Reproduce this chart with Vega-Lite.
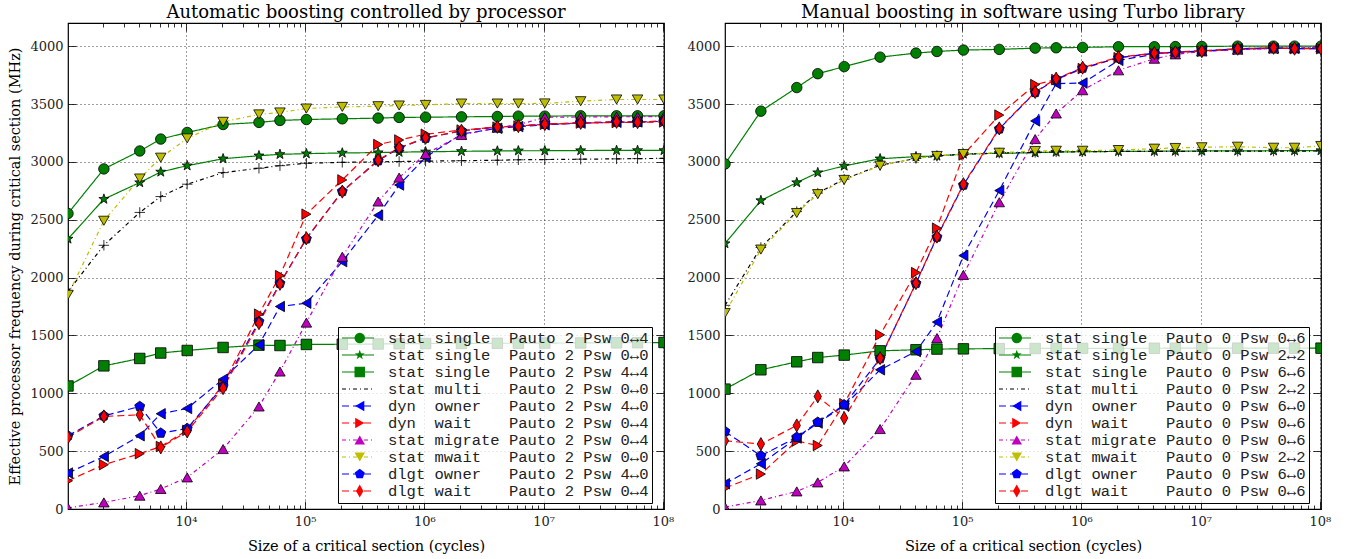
{
  "$schema": "https://vega.github.io/schema/vega-lite/v6.json",
  "padding": {"left": 7, "right": 4, "top": 3, "bottom": 2},
  "datasets": {
    "namesA": [
      {"k":0,"s":"stat\u00a0single\u00a0\u00a0Pauto\u00a02\u00a0Psw\u00a00\u21944"},
      {"k":1,"s":"stat\u00a0single\u00a0\u00a0Pauto\u00a02\u00a0Psw\u00a00\u21940"},
      {"k":2,"s":"stat\u00a0single\u00a0\u00a0Pauto\u00a02\u00a0Psw\u00a04\u21944"},
      {"k":3,"s":"stat\u00a0multi\u00a0\u00a0\u00a0Pauto\u00a02\u00a0Psw\u00a00\u21940"},
      {"k":4,"s":"dyn\u00a0\u00a0owner\u00a0\u00a0\u00a0Pauto\u00a02\u00a0Psw\u00a04\u21940"},
      {"k":5,"s":"dyn\u00a0\u00a0wait\u00a0\u00a0\u00a0\u00a0Pauto\u00a02\u00a0Psw\u00a00\u21944"},
      {"k":6,"s":"stat\u00a0migrate\u00a0Pauto\u00a02\u00a0Psw\u00a00\u21944"},
      {"k":7,"s":"stat\u00a0mwait\u00a0\u00a0\u00a0Pauto\u00a02\u00a0Psw\u00a00\u21940"},
      {"k":8,"s":"dlgt\u00a0owner\u00a0\u00a0\u00a0Pauto\u00a02\u00a0Psw\u00a04\u21940"},
      {"k":9,"s":"dlgt\u00a0wait\u00a0\u00a0\u00a0\u00a0Pauto\u00a02\u00a0Psw\u00a00\u21944"}
    ],
    "namesB": [
      {"k":0,"s":"stat\u00a0single\u00a0\u00a0Pauto\u00a00\u00a0Psw\u00a00\u21946"},
      {"k":1,"s":"stat\u00a0single\u00a0\u00a0Pauto\u00a00\u00a0Psw\u00a02\u21942"},
      {"k":2,"s":"stat\u00a0single\u00a0\u00a0Pauto\u00a00\u00a0Psw\u00a06\u21946"},
      {"k":3,"s":"stat\u00a0multi\u00a0\u00a0\u00a0Pauto\u00a00\u00a0Psw\u00a02\u21942"},
      {"k":4,"s":"dyn\u00a0\u00a0owner\u00a0\u00a0\u00a0Pauto\u00a00\u00a0Psw\u00a06\u21940"},
      {"k":5,"s":"dyn\u00a0\u00a0wait\u00a0\u00a0\u00a0\u00a0Pauto\u00a00\u00a0Psw\u00a00\u21946"},
      {"k":6,"s":"stat\u00a0migrate\u00a0Pauto\u00a00\u00a0Psw\u00a00\u21946"},
      {"k":7,"s":"stat\u00a0mwait\u00a0\u00a0\u00a0Pauto\u00a00\u00a0Psw\u00a02\u21942"},
      {"k":8,"s":"dlgt\u00a0owner\u00a0\u00a0\u00a0Pauto\u00a00\u00a0Psw\u00a06\u21940"},
      {"k":9,"s":"dlgt\u00a0wait\u00a0\u00a0\u00a0\u00a0Pauto\u00a00\u00a0Psw\u00a00\u21946"}
    ],
    "auto": [
      {"k":0,"x":1024,"y":2554},{"k":0,"x":2048,"y":2939},{"k":0,"x":4096,"y":3094},{"k":0,"x":6144,"y":3197},{"k":0,"x":10240,"y":3254},{"k":0,"x":20480,"y":3323},{"k":0,"x":40960,"y":3341},{"k":0,"x":61440,"y":3358},{"k":0,"x":102400,"y":3366},{"k":0,"x":204800,"y":3372},{"k":0,"x":409600,"y":3378},{"k":0,"x":614400,"y":3384},{"k":0,"x":1024000,"y":3386},{"k":0,"x":2048000,"y":3389},{"k":0,"x":4096000,"y":3392},{"k":0,"x":6144000,"y":3395},{"k":0,"x":10240000,"y":3395},{"k":0,"x":20480000,"y":3398},{"k":0,"x":40960000,"y":3398},{"k":0,"x":61440000,"y":3398},{"k":0,"x":102400000,"y":3398},
      {"k":1,"x":1024,"y":2334},{"k":1,"x":2048,"y":2678},{"k":1,"x":4096,"y":2821},{"k":1,"x":6144,"y":2913},{"k":1,"x":10240,"y":2967},{"k":1,"x":20480,"y":3027},{"k":1,"x":40960,"y":3053},{"k":1,"x":61440,"y":3065},{"k":1,"x":102400,"y":3071},{"k":1,"x":204800,"y":3077},{"k":1,"x":409600,"y":3080},{"k":1,"x":614400,"y":3084},{"k":1,"x":1024000,"y":3087},{"k":1,"x":2048000,"y":3091},{"k":1,"x":4096000,"y":3094},{"k":1,"x":6144000,"y":3096},{"k":1,"x":10240000,"y":3096},{"k":1,"x":20480000,"y":3098},{"k":1,"x":40960000,"y":3099},{"k":1,"x":61440000,"y":3099},{"k":1,"x":102400000,"y":3099},
      {"k":2,"x":1024,"y":1063},{"k":2,"x":2048,"y":1237},{"k":2,"x":4096,"y":1301},{"k":2,"x":6144,"y":1348},{"k":2,"x":10240,"y":1370},{"k":2,"x":20480,"y":1396},{"k":2,"x":40960,"y":1416},{"k":2,"x":61440,"y":1413},{"k":2,"x":102400,"y":1422},{"k":2,"x":204800,"y":1424},{"k":2,"x":409600,"y":1426},{"k":2,"x":614400,"y":1428},{"k":2,"x":1024000,"y":1430},{"k":2,"x":2048000,"y":1431},{"k":2,"x":4096000,"y":1432},{"k":2,"x":6144000,"y":1433},{"k":2,"x":10240000,"y":1434},{"k":2,"x":20480000,"y":1435},{"k":2,"x":40960000,"y":1436},{"k":2,"x":61440000,"y":1437},{"k":2,"x":102400000,"y":1439},
      {"k":3,"x":1024,"y":1880},{"k":3,"x":2048,"y":2279},{"k":3,"x":4096,"y":2563},{"k":3,"x":6144,"y":2700},{"k":3,"x":10240,"y":2807},{"k":3,"x":20480,"y":2907},{"k":3,"x":40960,"y":2945},{"k":3,"x":61440,"y":2967},{"k":3,"x":102400,"y":2988},{"k":3,"x":204800,"y":2996},{"k":3,"x":409600,"y":3000},{"k":3,"x":614400,"y":3003},{"k":3,"x":1024000,"y":3006},{"k":3,"x":2048000,"y":3010},{"k":3,"x":4096000,"y":3014},{"k":3,"x":6144000,"y":3018},{"k":3,"x":10240000,"y":3020},{"k":3,"x":20480000,"y":3023},{"k":3,"x":40960000,"y":3026},{"k":3,"x":61440000,"y":3028},{"k":3,"x":102400000,"y":3030},
      {"k":4,"x":1024,"y":311},{"k":4,"x":2048,"y":454},{"k":4,"x":4096,"y":633},{"k":4,"x":6144,"y":823},{"k":4,"x":10240,"y":869},{"k":4,"x":20480,"y":1122},{"k":4,"x":40960,"y":1419},{"k":4,"x":61440,"y":1750},{"k":4,"x":102400,"y":1779},{"k":4,"x":204800,"y":2138},{"k":4,"x":409600,"y":2538},{"k":4,"x":614400,"y":2800},{"k":4,"x":1024000,"y":3040},{"k":4,"x":2048000,"y":3240},{"k":4,"x":4096000,"y":3290},{"k":4,"x":6144000,"y":3305},{"k":4,"x":10240000,"y":3320},{"k":4,"x":20480000,"y":3335},{"k":4,"x":40960000,"y":3342},{"k":4,"x":61440000,"y":3345},{"k":4,"x":102400000,"y":3350},
      {"k":5,"x":1024,"y":244},{"k":5,"x":2048,"y":383},{"k":5,"x":4096,"y":478},{"k":5,"x":6144,"y":540},{"k":5,"x":10240,"y":680},{"k":5,"x":20480,"y":1075},{"k":5,"x":40960,"y":1684},{"k":5,"x":61440,"y":2017},{"k":5,"x":102400,"y":2548},{"k":5,"x":204800,"y":2844},{"k":5,"x":409600,"y":3150},{"k":5,"x":614400,"y":3189},{"k":5,"x":1024000,"y":3239},{"k":5,"x":2048000,"y":3275},{"k":5,"x":4096000,"y":3300},{"k":5,"x":6144000,"y":3310},{"k":5,"x":10240000,"y":3325},{"k":5,"x":20480000,"y":3335},{"k":5,"x":40960000,"y":3340},{"k":5,"x":61440000,"y":3342},{"k":5,"x":102400000,"y":3345},
      {"k":6,"x":1024,"y":10},{"k":6,"x":2048,"y":57},{"k":6,"x":4096,"y":115},{"k":6,"x":6144,"y":173},{"k":6,"x":10240,"y":273},{"k":6,"x":20480,"y":518},{"k":6,"x":40960,"y":886},{"k":6,"x":61440,"y":1188},{"k":6,"x":102400,"y":1611},{"k":6,"x":204800,"y":2180},{"k":6,"x":409600,"y":2657},{"k":6,"x":614400,"y":2864},{"k":6,"x":1024000,"y":3068},{"k":6,"x":2048000,"y":3232},{"k":6,"x":4096000,"y":3295},{"k":6,"x":6144000,"y":3320},{"k":6,"x":10240000,"y":3385},{"k":6,"x":20480000,"y":3388},{"k":6,"x":40960000,"y":3390},{"k":6,"x":61440000,"y":3390},{"k":6,"x":102400000,"y":3392},
      {"k":7,"x":1024,"y":1851},{"k":7,"x":2048,"y":2491},{"k":7,"x":4096,"y":2856},{"k":7,"x":6144,"y":3036},{"k":7,"x":10240,"y":3203},{"k":7,"x":20480,"y":3346},{"k":7,"x":40960,"y":3410},{"k":7,"x":61440,"y":3427},{"k":7,"x":102400,"y":3461},{"k":7,"x":204800,"y":3475},{"k":7,"x":409600,"y":3481},{"k":7,"x":614400,"y":3487},{"k":7,"x":1024000,"y":3492},{"k":7,"x":2048000,"y":3504},{"k":7,"x":4096000,"y":3504},{"k":7,"x":6144000,"y":3504},{"k":7,"x":10240000,"y":3505},{"k":7,"x":20480000,"y":3524},{"k":7,"x":40960000,"y":3539},{"k":7,"x":61440000,"y":3539},{"k":7,"x":102400000,"y":3539},
      {"k":8,"x":1024,"y":633},{"k":8,"x":2048,"y":805},{"k":8,"x":4096,"y":886},{"k":8,"x":6144,"y":656},{"k":8,"x":10240,"y":696},{"k":8,"x":20480,"y":1060},{"k":8,"x":40960,"y":1620},{"k":8,"x":61440,"y":1950},{"k":8,"x":102400,"y":2335},{"k":8,"x":204800,"y":2745},{"k":8,"x":409600,"y":3010},{"k":8,"x":614400,"y":3120},{"k":8,"x":1024000,"y":3205},{"k":8,"x":2048000,"y":3268},{"k":8,"x":4096000,"y":3300},{"k":8,"x":6144000,"y":3308},{"k":8,"x":10240000,"y":3326},{"k":8,"x":20480000,"y":3337},{"k":8,"x":40960000,"y":3346},{"k":8,"x":61440000,"y":3343},{"k":8,"x":102400000,"y":3352},
      {"k":9,"x":1024,"y":619},{"k":9,"x":2048,"y":800},{"k":9,"x":4096,"y":814},{"k":9,"x":6144,"y":532},{"k":9,"x":10240,"y":670},{"k":9,"x":20480,"y":1045},{"k":9,"x":40960,"y":1606},{"k":9,"x":61440,"y":1946},{"k":9,"x":102400,"y":2340},{"k":9,"x":204800,"y":2743},{"k":9,"x":409600,"y":3016},{"k":9,"x":614400,"y":3122},{"k":9,"x":1024000,"y":3208},{"k":9,"x":2048000,"y":3269},{"k":9,"x":4096000,"y":3303},{"k":9,"x":6144000,"y":3309},{"k":9,"x":10240000,"y":3326},{"k":9,"x":20480000,"y":3337},{"k":9,"x":40960000,"y":3346},{"k":9,"x":61440000,"y":3343},{"k":9,"x":102400000,"y":3354}
    ],
    "manual": [
      {"k":0,"x":1024,"y":2982},{"k":0,"x":2048,"y":3438},{"k":0,"x":4096,"y":3642},{"k":0,"x":6144,"y":3762},{"k":0,"x":10240,"y":3823},{"k":0,"x":20480,"y":3905},{"k":0,"x":40960,"y":3940},{"k":0,"x":61440,"y":3954},{"k":0,"x":102400,"y":3966},{"k":0,"x":204800,"y":3972},{"k":0,"x":409600,"y":3983},{"k":0,"x":614400,"y":3986},{"k":0,"x":1024000,"y":3989},{"k":0,"x":2048000,"y":3995},{"k":0,"x":4096000,"y":3995},{"k":0,"x":6144000,"y":3996},{"k":0,"x":10240000,"y":3997},{"k":0,"x":20480000,"y":4000},{"k":0,"x":40960000,"y":4000},{"k":0,"x":61440000,"y":4000},{"k":0,"x":102400000,"y":4000},
      {"k":1,"x":1024,"y":2294},{"k":1,"x":2048,"y":2666},{"k":1,"x":4096,"y":2821},{"k":1,"x":6144,"y":2907},{"k":1,"x":10240,"y":2965},{"k":1,"x":20480,"y":3027},{"k":1,"x":40960,"y":3045},{"k":1,"x":61440,"y":3051},{"k":1,"x":102400,"y":3068},{"k":1,"x":204800,"y":3074},{"k":1,"x":409600,"y":3079},{"k":1,"x":614400,"y":3085},{"k":1,"x":1024000,"y":3088},{"k":1,"x":2048000,"y":3090},{"k":1,"x":4096000,"y":3092},{"k":1,"x":6144000,"y":3093},{"k":1,"x":10240000,"y":3094},{"k":1,"x":20480000,"y":3095},{"k":1,"x":40960000,"y":3096},{"k":1,"x":61440000,"y":3097},{"k":1,"x":102400000,"y":3098},
      {"k":2,"x":1024,"y":1036},{"k":2,"x":2048,"y":1203},{"k":2,"x":4096,"y":1272},{"k":2,"x":6144,"y":1309},{"k":2,"x":10240,"y":1330},{"k":2,"x":20480,"y":1367},{"k":2,"x":40960,"y":1376},{"k":2,"x":61440,"y":1382},{"k":2,"x":102400,"y":1384},{"k":2,"x":204800,"y":1386},{"k":2,"x":409600,"y":1387},{"k":2,"x":614400,"y":1388},{"k":2,"x":1024000,"y":1388},{"k":2,"x":2048000,"y":1389},{"k":2,"x":4096000,"y":1389},{"k":2,"x":6144000,"y":1390},{"k":2,"x":10240000,"y":1390},{"k":2,"x":20480000,"y":1390},{"k":2,"x":40960000,"y":1390},{"k":2,"x":61440000,"y":1390},{"k":2,"x":102400000,"y":1390},
      {"k":3,"x":1024,"y":1760},{"k":3,"x":2048,"y":2260},{"k":3,"x":4096,"y":2570},{"k":3,"x":6144,"y":2730},{"k":3,"x":10240,"y":2850},{"k":3,"x":20480,"y":2970},{"k":3,"x":40960,"y":3030},{"k":3,"x":61440,"y":3050},{"k":3,"x":102400,"y":3066},{"k":3,"x":204800,"y":3076},{"k":3,"x":409600,"y":3082},{"k":3,"x":614400,"y":3086},{"k":3,"x":1024000,"y":3088},{"k":3,"x":2048000,"y":3090},{"k":3,"x":4096000,"y":3090},{"k":3,"x":6144000,"y":3091},{"k":3,"x":10240000,"y":3092},{"k":3,"x":20480000,"y":3092},{"k":3,"x":40960000,"y":3093},{"k":3,"x":61440000,"y":3093},{"k":3,"x":102400000,"y":3094},
      {"k":4,"x":1024,"y":218},{"k":4,"x":2048,"y":391},{"k":4,"x":4096,"y":613},{"k":4,"x":6144,"y":743},{"k":4,"x":10240,"y":892},{"k":4,"x":20480,"y":1203},{"k":4,"x":40960,"y":1361},{"k":4,"x":61440,"y":1615},{"k":4,"x":102400,"y":2190},{"k":4,"x":204800,"y":2752},{"k":4,"x":409600,"y":3354},{"k":4,"x":614400,"y":3676},{"k":4,"x":1024000,"y":3681},{"k":4,"x":2048000,"y":3877},{"k":4,"x":4096000,"y":3930},{"k":4,"x":6144000,"y":3950},{"k":4,"x":10240000,"y":3960},{"k":4,"x":20480000,"y":3975},{"k":4,"x":40960000,"y":3980},{"k":4,"x":61440000,"y":3980},{"k":4,"x":102400000,"y":3985},
      {"k":5,"x":1024,"y":181},{"k":5,"x":2048,"y":302},{"k":5,"x":4096,"y":587},{"k":5,"x":6144,"y":549},{"k":5,"x":10240,"y":909},{"k":5,"x":20480,"y":1505},{"k":5,"x":40960,"y":2043},{"k":5,"x":61440,"y":2427},{"k":5,"x":102400,"y":3060},{"k":5,"x":204800,"y":3404},{"k":5,"x":409600,"y":3668},{"k":5,"x":614400,"y":3711},{"k":5,"x":1024000,"y":3806},{"k":5,"x":2048000,"y":3900},{"k":5,"x":4096000,"y":3935},{"k":5,"x":6144000,"y":3945},{"k":5,"x":10240000,"y":3955},{"k":5,"x":20480000,"y":3972},{"k":5,"x":40960000,"y":3983},{"k":5,"x":61440000,"y":3978},{"k":5,"x":102400000,"y":3978},
      {"k":6,"x":1024,"y":17},{"k":6,"x":2048,"y":74},{"k":6,"x":4096,"y":152},{"k":6,"x":6144,"y":230},{"k":6,"x":10240,"y":368},{"k":6,"x":20480,"y":691},{"k":6,"x":40960,"y":1160},{"k":6,"x":61440,"y":1477},{"k":6,"x":102400,"y":2023},{"k":6,"x":204800,"y":2651},{"k":6,"x":409600,"y":3197},{"k":6,"x":614400,"y":3418},{"k":6,"x":1024000,"y":3619},{"k":6,"x":2048000,"y":3791},{"k":6,"x":4096000,"y":3891},{"k":6,"x":6144000,"y":3929},{"k":6,"x":10240000,"y":3955},{"k":6,"x":20480000,"y":3970},{"k":6,"x":40960000,"y":3980},{"k":6,"x":61440000,"y":3985},{"k":6,"x":102400000,"y":3990},
      {"k":7,"x":1024,"y":1693},{"k":7,"x":2048,"y":2242},{"k":7,"x":4096,"y":2558},{"k":7,"x":6144,"y":2721},{"k":7,"x":10240,"y":2844},{"k":7,"x":20480,"y":2967},{"k":7,"x":40960,"y":3031},{"k":7,"x":61440,"y":3051},{"k":7,"x":102400,"y":3068},{"k":7,"x":204800,"y":3079},{"k":7,"x":409600,"y":3094},{"k":7,"x":614400,"y":3096},{"k":7,"x":1024000,"y":3096},{"k":7,"x":2048000,"y":3102},{"k":7,"x":4096000,"y":3114},{"k":7,"x":6144000,"y":3120},{"k":7,"x":10240000,"y":3126},{"k":7,"x":20480000,"y":3131},{"k":7,"x":40960000,"y":3122},{"k":7,"x":61440000,"y":3122},{"k":7,"x":102400000,"y":3137},
      {"k":8,"x":1024,"y":670},{"k":8,"x":2048,"y":460},{"k":8,"x":4096,"y":620},{"k":8,"x":6144,"y":750},{"k":8,"x":10240,"y":900},{"k":8,"x":20480,"y":1300},{"k":8,"x":40960,"y":1950},{"k":8,"x":61440,"y":2350},{"k":8,"x":102400,"y":2800},{"k":8,"x":204800,"y":3285},{"k":8,"x":409600,"y":3600},{"k":8,"x":614400,"y":3715},{"k":8,"x":1024000,"y":3810},{"k":8,"x":2048000,"y":3900},{"k":8,"x":4096000,"y":3940},{"k":8,"x":6144000,"y":3948},{"k":8,"x":10240000,"y":3957},{"k":8,"x":20480000,"y":3978},{"k":8,"x":40960000,"y":3986},{"k":8,"x":61440000,"y":3978},{"k":8,"x":102400000,"y":3978},
      {"k":9,"x":1024,"y":590},{"k":9,"x":2048,"y":561},{"k":9,"x":4096,"y":722},{"k":9,"x":6144,"y":973},{"k":9,"x":10240,"y":786},{"k":9,"x":20480,"y":1304},{"k":9,"x":40960,"y":1952},{"k":9,"x":61440,"y":2354},{"k":9,"x":102400,"y":2807},{"k":9,"x":204800,"y":3289},{"k":9,"x":409600,"y":3604},{"k":9,"x":614400,"y":3719},{"k":9,"x":1024000,"y":3814},{"k":9,"x":2048000,"y":3905},{"k":9,"x":4096000,"y":3940},{"k":9,"x":6144000,"y":3948},{"k":9,"x":10240000,"y":3957},{"k":9,"x":20480000,"y":3978},{"k":9,"x":40960000,"y":3986},{"k":9,"x":61440000,"y":3978},{"k":9,"x":102400000,"y":3978}
    ]
  },
  "spacing": 61,
  "bounds": "flush",
  "hconcat": [
    {
      "width": 596, "height": 486,
      "title": {"text": "Automatic boosting controlled by processor"},
      "data": {"name": "auto"},
      "transform": [{"lookup": "k", "from": {"data": {"name": "namesA"}, "key": "k", "fields": ["s"]}}],
      "resolve": {"axis": {"x": "independent", "y": "independent"}},
      "layer": [
        {
          "mark": {"type": "line", "strokeWidth": 1.2, "clip": true},
          "encoding": {
            "x": {"field": "x", "type": "quantitative", "scale": {"type": "log", "domain": [1024, 102400000], "nice": false},
                  "axis": {"orient": "bottom", "values": [10000, 100000, 1000000, 10000000, 100000000], "labelExpr": "'10' + ['','','','','\u2074','\u2075','\u2076','\u2077','\u2078'][round(log(datum.value)/LN10)]", "tickSize": -8, "labelPadding": 14, "grid": true, "title": "Size of a critical section (cycles)", "titlePadding": 11}},
            "y": {"field": "y", "type": "quantitative", "scale": {"domain": [0, 4200], "nice": false},
                  "axis": {"orient": "left", "values": [0, 500, 1000, 1500, 2000, 2500, 3000, 3500, 4000], "format": "d", "tickSize": -8, "labelPadding": 13, "grid": true, "title": "Effective processor frequency during critical section (MHz)", "titlePadding": 7}},
            "stroke": {"field": "s", "type": "nominal", "sort": {"field": "k", "op": "min"},
                       "scale": {"range": ["#008000", "#008000", "#008000", "#000000", "#0000ff", "#ff0000", "#bf00bf", "#bfbf00", "#0000ff", "#ff0000"]},
                       "legend": {"orient": "none", "legendX": 270, "legendY": 304, "title": null, "symbolType": "stroke", "symbolSize": 1024, "clipHeight": 16, "symbolStrokeWidth": 1.2, "labelOffset": 13, "fillColor": "rgba(255,255,255,0.8)", "strokeColor": "black", "zindex": 1}},
            "strokeDash": {"field": "s", "type": "nominal", "sort": {"field": "k", "op": "min"},
                       "scale": {"range": [[1, 0], [1, 0], [1, 0], [4, 3, 1, 3], [7, 4], [7, 4], [4, 3, 1, 3], [4, 3, 1, 3], [7, 4], [7, 4]]},
                       "legend": {"orient": "none", "legendX": 270, "legendY": 304, "title": null, "symbolType": "stroke", "symbolSize": 1024, "clipHeight": 16, "symbolStrokeWidth": 1.2, "labelOffset": 13, "fillColor": "rgba(255,255,255,0.8)", "strokeColor": "black", "zindex": 1}}
          }
        },
        {
          "mark": {"type": "point", "filled": true, "size": 110, "stroke": "black", "strokeWidth": 0.8, "opacity": 1, "clip": true},
          "encoding": {
            "x": {"field": "x", "type": "quantitative", "axis": {"orient": "bottom", "values": [2000,3000,4000,5000,6000,7000,8000,9000,20000,30000,40000,50000,60000,70000,80000,90000,200000,300000,400000,500000,600000,700000,800000,900000,2000000,3000000,4000000,5000000,6000000,7000000,8000000,9000000,20000000,30000000,40000000,50000000,60000000,70000000,80000000,90000000], "labels": false, "tickSize": -4, "grid": false, "title": null}},
            "y": {"field": "y", "type": "quantitative", "axis": {"orient": "right", "values": [0, 500, 1000, 1500, 2000, 2500, 3000, 3500, 4000], "labels": false, "tickSize": -8, "grid": false, "title": null}},
            "fill": {"field": "k", "type": "nominal",
                     "scale": {"range": ["#008000", "#008000", "#008000", "#000000", "#0000ff", "#ff0000", "#bf00bf", "#bfbf00", "#0000ff", "#ff0000"]},
                     "legend": {"orient": "none", "legendX": 281, "legendY": 304, "title": null, "labelOpacity": 0, "clipHeight": 16, "symbolStrokeColor": "black", "symbolStrokeWidth": 0.8, "symbolSize": 110, "zindex": 2}},
            "shape": {"field": "k", "type": "nominal",
                     "scale": {"range": ["circle", "M0,-1L0.235,-0.324L0.951,-0.309L0.380,0.124L0.588,0.809L0,0.4L-0.588,0.809L-0.380,0.124L-0.951,-0.309L-0.235,-0.324Z", "square", "M-1,0H1M0,-1V1", "triangle-left", "triangle-right", "triangle-up", "triangle-down", "M0,-1L0.951,-0.309L0.588,0.809L-0.588,0.809L-0.951,-0.309Z", "M0,-1.25L0.7,0L0,1.25L-0.7,0Z"]},
                     "legend": {"orient": "none", "legendX": 281, "legendY": 304, "title": null, "labelOpacity": 0, "clipHeight": 16, "symbolStrokeColor": "black", "symbolStrokeWidth": 0.8, "symbolSize": 110, "zindex": 2}}
          }
        },
        {
          "mark": {"type": "point", "opacity": 0},
          "encoding": {
            "x": {"field": "x", "type": "quantitative", "axis": {"orient": "top", "values": [10000, 100000, 1000000, 10000000, 100000000], "labels": false, "tickSize": -8, "grid": false, "title": null}},
            "y": {"field": "y", "type": "quantitative", "axis": null}
          }
        },
        {
          "mark": {"type": "point", "opacity": 0},
          "encoding": {
            "x": {"field": "x", "type": "quantitative", "axis": {"orient": "top", "values": [2000,3000,4000,5000,6000,7000,8000,9000,20000,30000,40000,50000,60000,70000,80000,90000,200000,300000,400000,500000,600000,700000,800000,900000,2000000,3000000,4000000,5000000,6000000,7000000,8000000,9000000,20000000,30000000,40000000,50000000,60000000,70000000,80000000,90000000], "labels": false, "tickSize": -4, "grid": false, "title": null}},
            "y": {"field": "y", "type": "quantitative", "axis": null}
          }
        }
      ]
    },
    {
      "width": 596, "height": 486,
      "title": {"text": "Manual boosting in software using Turbo library"},
      "data": {"name": "manual"},
      "transform": [{"lookup": "k", "from": {"data": {"name": "namesB"}, "key": "k", "fields": ["s"]}}],
      "resolve": {"axis": {"x": "independent", "y": "independent"}},
      "layer": [
        {
          "mark": {"type": "line", "strokeWidth": 1.2, "clip": true},
          "encoding": {
            "x": {"field": "x", "type": "quantitative", "scale": {"type": "log", "domain": [1024, 102400000], "nice": false},
                  "axis": {"orient": "bottom", "values": [10000, 100000, 1000000, 10000000, 100000000], "labelExpr": "'10' + ['','','','','\u2074','\u2075','\u2076','\u2077','\u2078'][round(log(datum.value)/LN10)]", "tickSize": -8, "labelPadding": 14, "grid": true, "title": "Size of a critical section (cycles)", "titlePadding": 11}},
            "y": {"field": "y", "type": "quantitative", "scale": {"domain": [0, 4200], "nice": false},
                  "axis": {"orient": "left", "values": [0, 500, 1000, 1500, 2000, 2500, 3000, 3500, 4000], "format": "d", "tickSize": -8, "labelPadding": 13, "grid": true, "title": null}},
            "stroke": {"field": "s", "type": "nominal", "sort": {"field": "k", "op": "min"},
                       "scale": {"range": ["#008000", "#008000", "#008000", "#000000", "#0000ff", "#ff0000", "#bf00bf", "#bfbf00", "#0000ff", "#ff0000"]},
                       "legend": {"orient": "none", "legendX": 270, "legendY": 304, "title": null, "symbolType": "stroke", "symbolSize": 1024, "clipHeight": 16, "symbolStrokeWidth": 1.2, "labelOffset": 13, "fillColor": "rgba(255,255,255,0.8)", "strokeColor": "black", "zindex": 1}},
            "strokeDash": {"field": "s", "type": "nominal", "sort": {"field": "k", "op": "min"},
                       "scale": {"range": [[1, 0], [1, 0], [1, 0], [4, 3, 1, 3], [7, 4], [7, 4], [4, 3, 1, 3], [4, 3, 1, 3], [7, 4], [7, 4]]},
                       "legend": {"orient": "none", "legendX": 270, "legendY": 304, "title": null, "symbolType": "stroke", "symbolSize": 1024, "clipHeight": 16, "symbolStrokeWidth": 1.2, "labelOffset": 13, "fillColor": "rgba(255,255,255,0.8)", "strokeColor": "black", "zindex": 1}}
          }
        },
        {
          "mark": {"type": "point", "filled": true, "size": 110, "stroke": "black", "strokeWidth": 0.8, "opacity": 1, "clip": true},
          "encoding": {
            "x": {"field": "x", "type": "quantitative", "axis": {"orient": "bottom", "values": [2000,3000,4000,5000,6000,7000,8000,9000,20000,30000,40000,50000,60000,70000,80000,90000,200000,300000,400000,500000,600000,700000,800000,900000,2000000,3000000,4000000,5000000,6000000,7000000,8000000,9000000,20000000,30000000,40000000,50000000,60000000,70000000,80000000,90000000], "labels": false, "tickSize": -4, "grid": false, "title": null}},
            "y": {"field": "y", "type": "quantitative", "axis": {"orient": "right", "values": [0, 500, 1000, 1500, 2000, 2500, 3000, 3500, 4000], "labels": false, "tickSize": -8, "grid": false, "title": null}},
            "fill": {"field": "k", "type": "nominal",
                     "scale": {"range": ["#008000", "#008000", "#008000", "#000000", "#0000ff", "#ff0000", "#bf00bf", "#bfbf00", "#0000ff", "#ff0000"]},
                     "legend": {"orient": "none", "legendX": 281, "legendY": 304, "title": null, "labelOpacity": 0, "clipHeight": 16, "symbolStrokeColor": "black", "symbolStrokeWidth": 0.8, "symbolSize": 110, "zindex": 2}},
            "shape": {"field": "k", "type": "nominal",
                     "scale": {"range": ["circle", "M0,-1L0.235,-0.324L0.951,-0.309L0.380,0.124L0.588,0.809L0,0.4L-0.588,0.809L-0.380,0.124L-0.951,-0.309L-0.235,-0.324Z", "square", "M-1,0H1M0,-1V1", "triangle-left", "triangle-right", "triangle-up", "triangle-down", "M0,-1L0.951,-0.309L0.588,0.809L-0.588,0.809L-0.951,-0.309Z", "M0,-1.25L0.7,0L0,1.25L-0.7,0Z"]},
                     "legend": {"orient": "none", "legendX": 281, "legendY": 304, "title": null, "labelOpacity": 0, "clipHeight": 16, "symbolStrokeColor": "black", "symbolStrokeWidth": 0.8, "symbolSize": 110, "zindex": 2}}
          }
        },
        {
          "mark": {"type": "point", "opacity": 0},
          "encoding": {
            "x": {"field": "x", "type": "quantitative", "axis": {"orient": "top", "values": [10000, 100000, 1000000, 10000000, 100000000], "labels": false, "tickSize": -8, "grid": false, "title": null}},
            "y": {"field": "y", "type": "quantitative", "axis": null}
          }
        },
        {
          "mark": {"type": "point", "opacity": 0},
          "encoding": {
            "x": {"field": "x", "type": "quantitative", "axis": {"orient": "top", "values": [2000,3000,4000,5000,6000,7000,8000,9000,20000,30000,40000,50000,60000,70000,80000,90000,200000,300000,400000,500000,600000,700000,800000,900000,2000000,3000000,4000000,5000000,6000000,7000000,8000000,9000000,20000000,30000000,40000000,50000000,60000000,70000000,80000000,90000000], "labels": false, "tickSize": -4, "grid": false, "title": null}},
            "y": {"field": "y", "type": "quantitative", "axis": null}
          }
        }
      ]
    }
  ],
  "resolve": {
    "scale": {"stroke": "independent", "strokeDash": "independent", "fill": "independent", "shape": "independent"},
    "legend": {"stroke": "independent", "strokeDash": "independent", "fill": "independent", "shape": "independent"}
  },
  "config": {
    "view": {"stroke": "black", "strokeWidth": 1.2},
    "axis": {"domain": false, "tickColor": "black", "tickWidth": 0.8, "gridColor": "black", "gridDash": [1, 3], "gridWidth": 0.9, "gridOpacity": 0.85,
             "labelFont": "DejaVu Serif", "labelFontSize": 13, "labelColor": "#222", "labelFlush": false, "labelOverlap": false,
             "titleFont": "DejaVu Serif", "titleFontSize": 14.5, "titleFontWeight": "normal", "titleColor": "black"},
    "title": {"font": "DejaVu Serif", "fontSize": 18, "fontWeight": "normal", "color": "black", "offset": 1},
    "legend": {"labelFont": "Liberation Mono, DejaVu Sans Mono", "labelFontSize": 15.5, "labelColor": "#222", "labelLimit": 500, "rowPadding": 0, "padding": 3, "cornerRadius": 0}
  }
}
